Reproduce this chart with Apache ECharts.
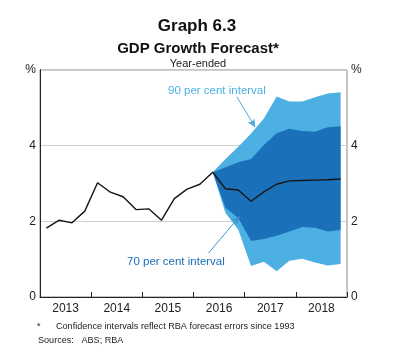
<!DOCTYPE html>
<html><head><meta charset="utf-8">
<script src="https://cdn.jsdelivr.net/npm/echarts@6/dist/echarts.min.js"></script>
<style>html,body{margin:0;padding:0;background:#fff}#c{width:400px;height:360px}</style>
</head><body><div id="c"></div>
<script>
// Quarterly data, Mar 2013 .. Dec 2018 (24 quarters)
const years = ['2013','2014','2015','2016','2017','2018'];
const quarterNames = ['Mar','Jun','Sep','Dec'];
const gdp = [1.82, 2.03, 1.96, 2.27, 3.02, 2.77, 2.65, 2.31, 2.33, 2.03, 2.60, 2.85, 2.98, 3.30,
             2.86, 2.83, 2.53, 2.78, 2.98, 3.07, 3.08, 3.09, 3.10, 3.12];
const fanStart = 13; // index where forecast fan starts
const upper90 = [3.30, 3.65, 3.97, 4.32, 4.72, 5.30, 5.17, 5.17, 5.28, 5.38, 5.41];
const upper70 = [3.30, 3.43, 3.56, 3.65, 4.02, 4.33, 4.45, 4.39, 4.37, 4.49, 4.51];
const lower70 = [3.30, 2.36, 2.09, 1.48, 1.53, 1.62, 1.73, 1.85, 1.83, 1.73, 1.77];
const lower90 = [3.30, 2.22, 1.78, 0.82, 0.93, 0.68, 0.96, 1.01, 0.91, 0.83, 0.87];
const yTicks = [0, 2, 4, 6];

const FONT = '"Liberation Sans", Arial, sans-serif';
const LIGHT = '#4cb1e2';
const DARK = '#1a71b9';

const quarters = [];
years.forEach(y => quarterNames.forEach(q => quarters.push(q + '-' + y.slice(2))));
const pad = arr => quarters.map((_, i) => (i >= fanStart && i - fanStart < arr.length ? arr[i - fanStart] : '-'));
const padDiff = (a, b) => pad(a.map((v, k) => +(v - b[k]).toFixed(3)));

const hidden = { symbol: 'none', lineStyle: { opacity: 0 }, silent: true };

const chart = echarts.init(document.getElementById('c'), null, { renderer: 'canvas' });
chart.setOption({
  animation: false,
  textStyle: { fontFamily: FONT },
  grid: { left: 40, right: 53, top: 70, bottom: 63, show: true, borderColor: '#8a8a8a', borderWidth: 1 },
  title: [
    { text: 'Graph 6.3', left: 192, top: 13, textAlign: 'center',
      textStyle: { fontFamily: FONT, fontSize: 17, fontWeight: 'bold', color: '#111' } },
    { text: 'GDP Growth Forecast*', left: 193, top: 36, textAlign: 'center',
      textStyle: { fontFamily: FONT, fontSize: 15, fontWeight: 'bold', color: '#111' } },
    { text: 'Year-ended', left: 193, top: 53, textAlign: 'center',
      textStyle: { fontFamily: FONT, fontSize: 11, fontWeight: 'normal', color: '#222' } }
  ],
  xAxis: [
    { type: 'category', data: quarters, boundaryGap: true, position: 'bottom',
      axisLine: { show: false }, axisTick: { show: false }, axisLabel: { show: false }, splitLine: { show: false } },
    { type: 'value', min: 0, max: 24, interval: 4, position: 'bottom',
      axisLine: { show: true, lineStyle: { color: '#222', width: 1 } },
      axisTick: { show: true, inside: true, length: 5, lineStyle: { color: '#222' } },
      axisLabel: { show: false }, splitLine: { show: false } },
    { type: 'value', min: 0, max: 24, interval: 2, position: 'bottom',
      axisLine: { show: false }, axisTick: { show: false }, splitLine: { show: false },
      axisLabel: { show: true, margin: 6, fontSize: 12, color: '#222', fontFamily: FONT,
        formatter: v => (v % 4 === 2 ? years[(v - 2) / 4] : '') } }
  ],
  yAxis: [
    { type: 'value', min: 0, max: 6, interval: 2, position: 'left',
      axisLine: { show: true, lineStyle: { color: '#222' } }, axisTick: { show: false },
      axisLabel: { fontSize: 12, color: '#222', margin: 4, fontFamily: FONT,
        formatter: v => (v === yTicks[yTicks.length - 1] ? '%' : String(v)) },
      splitLine: { show: true, lineStyle: { color: '#cfcfcf', width: 1 } } },
    { type: 'value', min: 0, max: 6, interval: 2, position: 'right',
      axisLine: { show: true, lineStyle: { color: '#222' } }, axisTick: { show: false },
      axisLabel: { fontSize: 12, color: '#222', margin: 4, fontFamily: FONT,
        formatter: v => (v === yTicks[yTicks.length - 1] ? '%' : String(v)) },
      splitLine: { show: false } }
  ],
  series: [
    Object.assign({ type: 'line', stack: 'f90', data: pad(lower90), z: 1 }, hidden),
    { type: 'line', stack: 'f90', data: padDiff(upper90, lower90), symbol: 'none', silent: true, z: 1,
      lineStyle: { opacity: 0 }, areaStyle: { color: LIGHT, opacity: 1 } },
    Object.assign({ type: 'line', stack: 'f70', data: pad(lower70), z: 2 }, hidden),
    { type: 'line', stack: 'f70', data: padDiff(upper70, lower70), symbol: 'none', silent: true, z: 2,
      lineStyle: { opacity: 0 }, areaStyle: { color: DARK, opacity: 1 } },
    { type: 'line', data: gdp, symbol: 'none', z: 5,
      lineStyle: { color: '#151515', width: 1.4 } },
    { type: 'line', xAxisIndex: 1, data: [], symbol: 'none', z: 6,
      markLine: { silent: true, symbol: ['none', 'arrow'], symbolSize: [6, 8], label: { show: false },
        lineStyle: { type: 'solid', width: 1 },
        data: [
          [{ coord: [15.39, 5.29], lineStyle: { color: '#4aa8dd', type: 'solid', width: 1 } }, { coord: [16.82, 4.49] }],
          [{ coord: [13.17, 1.16], lineStyle: { color: '#3d96d3', type: 'solid', width: 1 } }, { coord: [15.6, 2.13] }]
        ] } }
  ],
  graphic: [
    { type: 'text', left: 168, top: 85, style: { text: '90 per cent interval', fill: '#4ab0e2', font: '11.5px ' + FONT } },
    { type: 'text', left: 127, top: 256, style: { text: '70 per cent interval', fill: '#1a6fb6', font: '11.5px ' + FONT } },
    { type: 'text', left: 37, top: 322, style: { text: '*', fill: '#222', font: '9px ' + FONT } },
    { type: 'text', left: 56, top: 322, style: { text: 'Confidence intervals reflect RBA forecast errors since 1993', fill: '#222', font: '9.1px ' + FONT } },
    { type: 'text', left: 38, top: 336, style: { text: 'Sources:   ABS; RBA', fill: '#222', font: '9.1px ' + FONT } }
  ]
});
</script></body></html>
